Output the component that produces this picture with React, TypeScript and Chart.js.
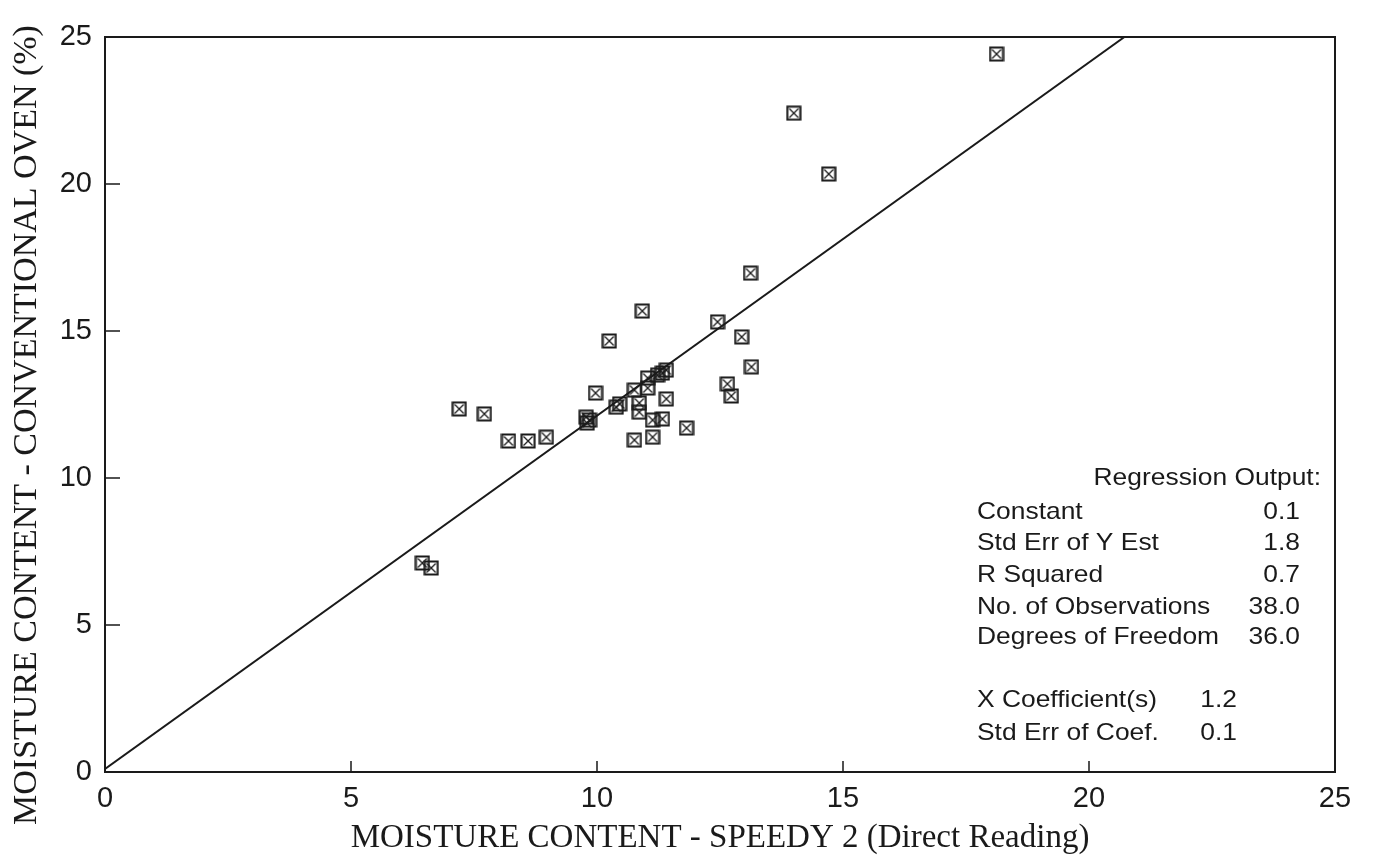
import React, { useEffect, useRef } from "react";
import { Chart, registerables } from "chart.js";

Chart.register(...registerables);

// Observations: Speedy 2 reading (x) vs conventional oven (y)
const speedyX = [
  18.12, 14.0, 14.71, 13.12, 10.92, 12.45, 10.25, 12.94, 13.14, 11.41,
  11.33, 11.03, 12.65, 12.73, 11.03, 10.76, 9.97, 11.41, 10.39, 10.86,
  10.86, 7.2, 7.71, 9.85, 9.78, 11.13, 11.33, 11.82, 8.2, 8.6,
  8.97, 10.76, 11.13, 6.45, 6.63, 10.46, 9.8, 11.23,
];
const ovenY = [
  24.42, 22.41, 20.34, 16.97, 15.68, 15.31, 14.66, 14.8, 13.78, 13.67,
  13.57, 13.4, 13.2, 12.79, 13.06, 12.99, 12.89, 12.69, 12.41, 12.55,
  12.24, 12.35, 12.18, 11.97, 12.07, 11.97, 12.01, 11.7, 11.26, 11.26,
  11.39, 11.29, 11.39, 7.11, 6.94, 12.52, 11.87, 13.5,
];

// Fitted regression line end points
const fitX = [0, 20.72];
const fitY = [0.1, 25.0];

const xTicks = [0, 5, 10, 15, 20, 25];
const yTicks = [0, 5, 10, 15, 20, 25];

const xTitle = "MOISTURE CONTENT - SPEEDY 2 (Direct Reading)";
const yTitle = "MOISTURE CONTENT - CONVENTIONAL OVEN (%)";

const regHeader = "Regression Output:";
const regLabels = ["Constant", "Std Err of Y Est", "R Squared", "No. of Observations", "Degrees of Freedom"];
const regValues = ["0.1", "1.8", "0.7", "38.0", "36.0"];
const coefLabels = ["X Coefficient(s)", "Std Err of Coef."];
const coefValues = ["1.2", "0.1"];

const INK = "#1a1a1a";

function makeMarker(): HTMLCanvasElement {
  const c = document.createElement("canvas");
  const s = 16;
  c.width = s;
  c.height = s;
  const g = c.getContext("2d")!;
  g.strokeStyle = INK;
  g.lineWidth = 2.1;
  g.beginPath();
  g.rect(1.5, 1.5, s - 3, s - 3);
  g.stroke();
  g.lineWidth = 1.3;
  g.beginPath();
  g.moveTo(3.5, 3.5);
  g.lineTo(s - 3.5, s - 3.5);
  g.moveTo(s - 3.5, 3.5);
  g.lineTo(3.5, s - 3.5);
  g.stroke();
  return c;
}

const framePlugin = {
  id: "frame",
  afterDatasetsDraw(chart: any) {
    const { ctx, chartArea } = chart;
    const { left, right, top, bottom } = chartArea;
    const xs = chart.scales.x;
    const ys = chart.scales.y;
    ctx.save();
    ctx.strokeStyle = INK;
    ctx.lineWidth = 2;
    ctx.strokeRect(left, top, right - left, bottom - top);
    ctx.lineWidth = 1.5;
    ctx.beginPath();
    xTicks.slice(1, -1).forEach((v) => {
      const px = xs.getPixelForValue(v);
      ctx.moveTo(px, bottom);
      ctx.lineTo(px, bottom - 11);
    });
    yTicks.slice(1, -1).forEach((v) => {
      const py = ys.getPixelForValue(v);
      ctx.moveTo(left, py);
      ctx.lineTo(left + 15, py);
    });
    ctx.stroke();

    // Y axis title
    ctx.save();
    ctx.fillStyle = INK;
    ctx.font = '34px "Liberation Serif", "Times New Roman", serif';
    ctx.textAlign = "center";
    ctx.textBaseline = "middle";
    ctx.translate(27, 425);
    ctx.rotate(-Math.PI / 2);
    ctx.fillText(yTitle, 0, 0);
    ctx.restore();

    // Regression output text block
    const sx = 1.1;
    const draw = (t: string, x: number, y: number, align: CanvasTextAlign) => {
      ctx.save();
      ctx.translate(x, y);
      ctx.scale(sx, 1);
      ctx.textAlign = align;
      ctx.fillText(t, 0, 0);
      ctx.restore();
    };
    ctx.fillStyle = INK;
    ctx.font = '24px "Liberation Sans", Arial, sans-serif';
    ctx.textBaseline = "middle";
    draw(regHeader, 1321, 478, "right");
    const rows = [512, 543, 575, 607, 637];
    regLabels.forEach((l, i) => {
      draw(l, 977, rows[i], "left");
      draw(regValues[i], 1300, rows[i], "right");
    });
    const rows2 = [700, 733];
    coefLabels.forEach((l, i) => {
      draw(l, 977, rows2[i], "left");
      draw(coefValues[i], 1237, rows2[i], "right");
    });
    ctx.restore();
  },
};

export default function App() {
  const ref = useRef<HTMLCanvasElement | null>(null);

  useEffect(() => {
    if (!ref.current) return;
    const marker = makeMarker();
    const points = speedyX.map((x, i) => ({ x, y: ovenY[i] }));
    const fit = fitX.map((x, i) => ({ x, y: fitY[i] }));
    const chart = new Chart(ref.current, {
      type: "scatter",
      data: {
        datasets: [
          {
            label: "Fit",
            data: fit,
            showLine: true,
            borderColor: INK,
            borderWidth: 2,
            pointRadius: 0,
            fill: false,
          },
          {
            label: "Observations",
            data: points,
            pointStyle: marker as any,
            pointRadius: 8,
            borderColor: INK,
            backgroundColor: "rgba(0,0,0,0)",
          },
        ],
      },
      options: {
        animation: false,
        responsive: false,
        events: [],
        layout: { padding: { left: 0, right: 41, top: 37, bottom: 0 } },
        plugins: {
          legend: { display: false },
          tooltip: { enabled: false },
        },
        scales: {
          x: {
            type: "linear",
            min: 0,
            max: 25,
            afterBuildTicks: (s: any) => {
              s.ticks = xTicks.map((v) => ({ value: v }));
            },
            afterFit: (s: any) => {
              s.height = 87;
            },
            grid: { display: false, drawTicks: false },
            border: { display: false },
            ticks: {
              padding: 10,
              color: INK,
              font: { family: '"Liberation Sans", Arial, sans-serif', size: 29 },
              maxRotation: 0,
            },
            title: {
              display: true,
              text: xTitle,
              color: INK,
              padding: { top: 0, bottom: 1 },
              font: { family: '"Liberation Serif", "Times New Roman", serif', size: 33 },
            },
          },
          y: {
            type: "linear",
            min: 0,
            max: 25,
            afterBuildTicks: (s: any) => {
              s.ticks = yTicks.map((v) => ({ value: v }));
            },
            afterFit: (s: any) => {
              s.width = 105;
            },
            grid: { display: false, drawTicks: false },
            border: { display: false },
            ticks: {
              padding: 13,
              color: INK,
              font: { family: '"Liberation Sans", Arial, sans-serif', size: 29 },
            },
            title: { display: false },
          },
        },
      },
      plugins: [framePlugin],
    });
    return () => chart.destroy();
  }, []);

  return (
    <div style={{ position: "fixed", left: 0, top: 0, width: 1376, height: 859, background: "#fff" }}>
      <canvas ref={ref} width={1376} height={859} style={{ display: "block" }} />
    </div>
  );
}
